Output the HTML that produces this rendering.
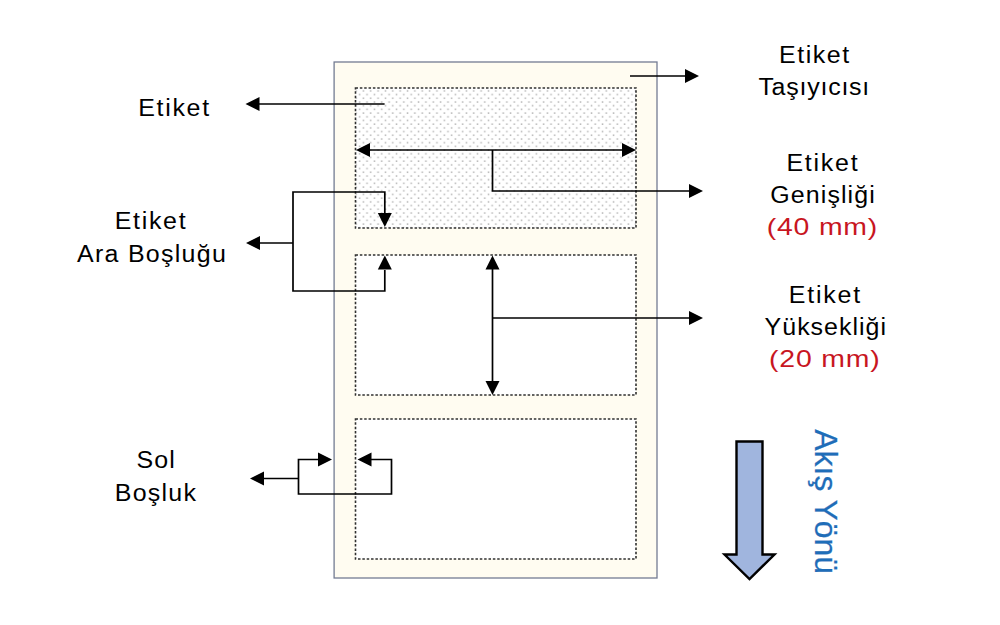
<!DOCTYPE html>
<html><head><meta charset="utf-8">
<style>
html,body{margin:0;padding:0;background:#fff;width:1000px;height:625px;overflow:hidden}
svg{display:block}
text{font-family:"Liberation Sans",sans-serif;font-size:24.5px}
</style></head><body>
<svg width="1000" height="625" viewBox="0 0 1000 625">
<defs>
<pattern id="dots" x="355.5" y="88" width="7.36" height="7.4" patternUnits="userSpaceOnUse">
<rect width="7.36" height="7.4" fill="#fff"/>
<rect x="-0.25" y="2.15" width="1.5" height="1.5" fill="#b6b6b6"/>
<rect x="7.11" y="2.15" width="1.5" height="1.5" fill="#b6b6b6"/>
<rect x="3.43" y="5.85" width="1.5" height="1.5" fill="#b6b6b6"/>
</pattern>
</defs>
<rect x="334.1" y="62" width="322.9" height="516" fill="#fffcf1" stroke="#737b92" stroke-width="1.3"/>
<rect x="355.5" y="88" width="280.5" height="140" fill="url(#dots)" />
<rect x="355.5" y="88" width="280.5" height="140" fill="none" stroke="#303030" stroke-width="1.6" stroke-dasharray="2.5 1.85"/>
<rect x="355.5" y="255" width="280.5" height="140" fill="#fff"/>
<rect x="355.5" y="255" width="280.5" height="140" fill="none" stroke="#303030" stroke-width="1.6" stroke-dasharray="2.5 1.85"/>
<rect x="355.5" y="419" width="280.5" height="140" fill="#fff"/>
<rect x="355.5" y="419" width="280.5" height="140" fill="none" stroke="#303030" stroke-width="1.6" stroke-dasharray="2.5 1.85"/>
<polyline points="630,76 686,76" fill="none" stroke="#000" stroke-width="1.7" stroke-linejoin="miter" stroke-linecap="butt"/>
<polygon points="699.0,76.0 685.0,69.0 685.0,83.0" fill="#000"/>
<polyline points="384.6,104 258,104" fill="none" stroke="#000" stroke-width="1.7" stroke-linejoin="miter" stroke-linecap="butt"/>
<polygon points="245.5,104.0 259.5,97.0 259.5,111.0" fill="#000"/>
<polyline points="369,150 622,150" fill="none" stroke="#000" stroke-width="1.7" stroke-linejoin="miter" stroke-linecap="butt"/>
<polygon points="356.0,150.0 370.0,143.0 370.0,157.0" fill="#000"/>
<polygon points="636.0,150.0 622.0,143.0 622.0,157.0" fill="#000"/>
<polyline points="492.5,150 492.5,191 690,191" fill="none" stroke="#000" stroke-width="1.7" stroke-linejoin="miter" stroke-linecap="butt"/>
<polygon points="703.0,191.0 689.0,184.0 689.0,198.0" fill="#000"/>
<polyline points="384.8,214 384.8,192 293,192 293,291 384.8,291 384.8,270" fill="none" stroke="#000" stroke-width="1.7" stroke-linejoin="miter" stroke-linecap="butt"/>
<polygon points="384.8,227.0 377.8,213.0 391.8,213.0" fill="#000"/>
<polygon points="384.8,255.5 377.8,269.5 391.8,269.5" fill="#000"/>
<polyline points="293,243 258,243" fill="none" stroke="#000" stroke-width="1.7" stroke-linejoin="miter" stroke-linecap="butt"/>
<polygon points="246.0,243.0 260.0,236.0 260.0,250.0" fill="#000"/>
<polyline points="492.5,268 492.5,382" fill="none" stroke="#000" stroke-width="1.7" stroke-linejoin="miter" stroke-linecap="butt"/>
<polygon points="492.5,255.5 485.5,269.5 499.5,269.5" fill="#000"/>
<polygon points="492.5,395.0 485.5,381.0 499.5,381.0" fill="#000"/>
<polyline points="492.5,318 690,318" fill="none" stroke="#000" stroke-width="1.7" stroke-linejoin="miter" stroke-linecap="butt"/>
<polygon points="703.0,318.0 689.0,311.0 689.0,325.0" fill="#000"/>
<polyline points="320,459.5 298.5,459.5 298.5,494 391.5,494 391.5,459.5 370,459.5" fill="none" stroke="#000" stroke-width="1.7" stroke-linejoin="miter" stroke-linecap="butt"/>
<polygon points="332.0,459.5 318.0,452.5 318.0,466.5" fill="#000"/>
<polygon points="357.5,459.5 371.5,452.5 371.5,466.5" fill="#000"/>
<polyline points="298.5,478.5 262,478.5" fill="none" stroke="#000" stroke-width="1.7" stroke-linejoin="miter" stroke-linecap="butt"/>
<polygon points="250.0,478.5 264.0,471.5 264.0,485.5" fill="#000"/>
<polygon points="736.5,441.5 762.5,441.5 762.5,554.5 774.5,554.5 749.5,579 724.5,554.5 736.5,554.5" fill="#a0b5de" stroke="#000" stroke-width="2.4" stroke-linejoin="miter"/>
<text transform="translate(779.00 63.00) scale(1.0200 1)" style="letter-spacing:1.500px" fill="#000">Etiket</text>
<text transform="translate(758.38 95.40) scale(1.0200 1)" style="letter-spacing:0.740px" fill="#000">Taşıyıcısı</text>
<text transform="translate(138.20 116.40) scale(1.0200 1)" style="letter-spacing:1.657px" fill="#000">Etiket</text>
<text transform="translate(786.40 170.60) scale(1.0200 1)" style="letter-spacing:1.716px" fill="#000">Etiket</text>
<text transform="translate(770.35 202.90) scale(1.0200 1)" style="letter-spacing:1.058px" fill="#000">Genişliği</text>
<text transform="translate(766.69 234.60) scale(1.1600 1)" style="letter-spacing:0.702px" fill="#c8161f">(40 mm)</text>
<text transform="translate(788.80 302.80) scale(1.0200 1)" style="letter-spacing:1.735px" fill="#000">Etiket</text>
<text transform="translate(764.58 334.80) scale(1.0200 1)" style="letter-spacing:0.980px" fill="#000">Yüksekliği</text>
<text transform="translate(769.09 366.80) scale(1.1600 1)" style="letter-spacing:0.702px" fill="#c8161f">(20 mm)</text>
<text transform="translate(114.70 229.00) scale(1.0200 1)" style="letter-spacing:1.657px" fill="#000">Etiket</text>
<text transform="translate(76.98 261.50) scale(1.0200 1)" style="letter-spacing:1.253px" fill="#000">Ara Boşluğu</text>
<text transform="translate(136.48 467.60) scale(1.0200 1)" style="letter-spacing:1.097px" fill="#000">Sol</text>
<text transform="translate(114.80 500.80) scale(1.0200 1)" style="letter-spacing:1.221px" fill="#000">Boşluk</text>
<text transform="translate(815.30 429.34) rotate(90) scale(1.0137 1)" style="font-size:31.45px" fill="#1f6db8" stroke="#1f6db8" stroke-width="0.25">Akış Yönü</text>
</svg>
</body></html>
